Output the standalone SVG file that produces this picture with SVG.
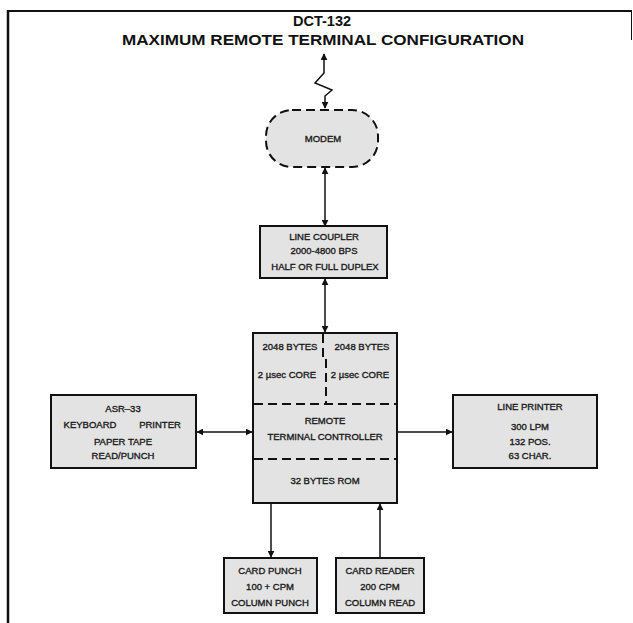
<svg xmlns="http://www.w3.org/2000/svg" width="633" height="623" viewBox="0 0 633 623">
  <style>
    .frame { stroke: #111; fill: none; }
    .box { fill: #e3e3e3; stroke: #111; stroke-width: 2; }
    .dash { fill: none; stroke: #111; stroke-width: 2; stroke-dasharray: 9 5; }
    .wire { fill: none; stroke: #111; stroke-width: 1.5; }
    .title { font-family: "Liberation Sans", Arial, sans-serif; font-weight: bold; font-size: 14.5px; fill: #111; text-anchor: middle; }
    .lbl { font-family: "Liberation Sans", Arial, sans-serif; font-size: 9.5px; fill: #1a1a1a; stroke: #1a1a1a; stroke-width: 0.35; text-anchor: middle; }
  </style>
  <defs>
    <marker id="arrow" viewBox="0 0 10 10" refX="9" refY="5" markerWidth="7" markerHeight="7" orient="auto-start-reverse" markerUnits="userSpaceOnUse">
      <path d="M0,0 L10,5 L0,10 z" fill="#111"/>
    </marker>
  </defs>

  <rect width="633" height="623" fill="#fff"/>

  <!-- page frame -->
  <g id="frame">
    <line class="frame" x1="7" y1="11" x2="632" y2="11" stroke-width="2"/>
    <line class="frame" x1="8" y1="10" x2="8" y2="623" stroke-width="2.5"/>
    <line class="frame" x1="631.5" y1="11" x2="631.5" y2="40" stroke-width="1"/>
  </g>

  <!-- heading -->
  <g id="title">
    <text class="title" x="322" y="26">DCT-132</text>
    <text class="title" x="323" y="45" textLength="402" lengthAdjust="spacingAndGlyphs">MAXIMUM REMOTE TERMINAL CONFIGURATION</text>
  </g>

  <!-- connectors -->
  <g id="connectors">
    <!-- phone line into modem -->
    <path class="wire" d="M324,54 V73 L315,83 L332,90 L325,96 V108" marker-start="url(#arrow)" marker-end="url(#arrow)"/>
    <!-- modem to line coupler -->
    <line class="wire" x1="325" y1="168" x2="325" y2="226" marker-start="url(#arrow)" marker-end="url(#arrow)"/>
    <!-- line coupler to controller -->
    <line class="wire" x1="325" y1="279" x2="325" y2="332" marker-start="url(#arrow)" marker-end="url(#arrow)"/>
    <!-- ASR-33 to controller -->
    <line class="wire" x1="197" y1="432" x2="252" y2="432" marker-start="url(#arrow)" marker-end="url(#arrow)"/>
    <!-- controller to line printer -->
    <line class="wire" x1="398" y1="432" x2="452" y2="432" marker-end="url(#arrow)"/>
    <!-- controller to card punch -->
    <line class="wire" x1="271" y1="504" x2="271" y2="557" marker-end="url(#arrow)"/>
    <!-- card reader to controller -->
    <line class="wire" x1="380" y1="557" x2="380" y2="504" marker-end="url(#arrow)"/>
  </g>

  <g id="modem">
    <rect class="dash" x="266" y="110" width="112" height="57" rx="26" ry="26" style="fill:#e3e3e3"/>
    <text class="lbl" x="323" y="142">MODEM</text>
  </g>

  <g id="line-coupler">
    <rect class="box" x="260" y="226" width="127" height="52"/>
    <text class="lbl" x="324" y="240">LINE COUPLER</text>
    <text class="lbl" x="324" y="254">2000-4800 BPS</text>
    <text class="lbl" x="325" y="270">HALF OR FULL DUPLEX</text>
  </g>

  <g id="controller">
    <rect class="box" x="253" y="333" width="144" height="170"/>
    <path class="dash" d="M323,334 V357 H326 V404" stroke-dasharray="8 5"/>
    <line class="dash" x1="254" y1="404" x2="396" y2="404"/>
    <line class="dash" x1="254" y1="459" x2="396" y2="459"/>
    <text class="lbl" x="290" y="350">2048 BYTES</text>
    <text class="lbl" x="362" y="350">2048 BYTES</text>
    <text class="lbl" x="287" y="378">2 µsec CORE</text>
    <text class="lbl" x="360" y="378">2 µsec CORE</text>
    <text class="lbl" x="325" y="424">REMOTE</text>
    <text class="lbl" x="325" y="440">TERMINAL CONTROLLER</text>
    <text class="lbl" x="325" y="484">32 BYTES ROM</text>
  </g>

  <g id="asr-33">
    <rect class="box" x="51" y="395" width="145" height="73"/>
    <text class="lbl" x="123" y="412">ASR–33</text>
    <text class="lbl" x="90" y="428">KEYBOARD</text>
    <text class="lbl" x="160" y="428">PRINTER</text>
    <text class="lbl" x="123" y="445">PAPER TAPE</text>
    <text class="lbl" x="123" y="459">READ/PUNCH</text>
  </g>

  <g id="line-printer">
    <rect class="box" x="453" y="395" width="144" height="73"/>
    <text class="lbl" x="530" y="410">LINE PRINTER</text>
    <text class="lbl" x="530" y="430">300 LPM</text>
    <text class="lbl" x="530" y="445">132 POS.</text>
    <text class="lbl" x="530" y="459">63 CHAR.</text>
  </g>

  <g id="card-punch">
    <rect class="box" x="224" y="558" width="93" height="55"/>
    <text class="lbl" x="270" y="574">CARD PUNCH</text>
    <text class="lbl" x="270" y="590">100 + CPM</text>
    <text class="lbl" x="270" y="606">COLUMN PUNCH</text>
  </g>

  <g id="card-reader">
    <rect class="box" x="336" y="558" width="88" height="55"/>
    <text class="lbl" x="380" y="574">CARD READER</text>
    <text class="lbl" x="380" y="590">200 CPM</text>
    <text class="lbl" x="380" y="606">COLUMN READ</text>
  </g>
</svg>
